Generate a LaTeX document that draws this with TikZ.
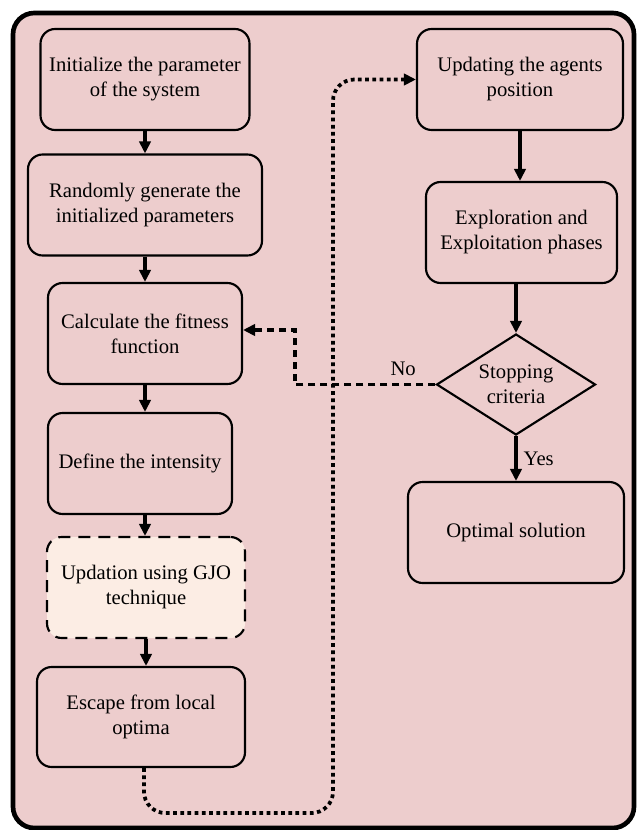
\documentclass[tikz,border=0pt]{standalone}
\usepackage{fontspec}
\setmainfont{Liberation Serif}
\usetikzlibrary{arrows.meta,shapes.geometric}
\definecolor{boxpink}{RGB}{237,205,205}
\definecolor{gjocream}{RGB}{252,237,228}

\begin{document}
\begin{tikzpicture}[x=0.75pt,y=-0.75pt,
		>={Triangle[length=9pt,width=8.5pt]},
		stepbox/.style={draw,line width=1.6pt,rounded corners=11pt,fill=boxpink,align=center,inner sep=3pt,minimum height=75.75pt,font=\fontsize{15.5}{18.75}\selectfont},
		gjobox/.style={stepbox,fill=gjocream,dash pattern=on 9pt off 6pt},
		decision/.style={draw,line width=1.6pt,diamond,fill=boxpink,align=center,inner sep=0pt,aspect=1.57,minimum width=119.25pt,minimum height=75.75pt,font=\fontsize{15.5}{18.75}\selectfont},
		flow/.style={line width=2.8pt,arrows=->},
		noline/.style={line width=2.4pt,dash pattern=on 5.5pt off 3.5pt,arrows=->},
		loopline/.style={line width=2.8pt,dash pattern=on 2.8pt off 2.6pt,arrows=->,rounded corners=16pt},
		lbl/.style={font=\fontsize{15.5}{18.75}\selectfont}]
		\useasboundingbox (0,0) rectangle (636,830);
		\draw[line width=3.5pt,fill=boxpink,rounded corners=16pt] (13,13) rectangle (634,828);
		
		% left column
		\node[stepbox,minimum width=156.75pt] (init) at (145,79.5) {Initialize the parameter\\of the system};
		\node[stepbox,minimum width=175.5pt] (rand) at (145,205) {Randomly generate the\\initialized parameters};
		\node[stepbox,minimum width=145.5pt] (fit) at (145,333.5) {Calculate the fitness\\function};
		\node[stepbox,minimum width=138pt] (inten) at (140,463.5) {Define the intensity};
		\node[gjobox,minimum width=148.5pt] (gjo) at (146,587.5) {Updation using GJO\\technique};
		\node[stepbox,minimum width=156pt,minimum height=75pt] (escape) at (141,717) {Escape from local\\optima};
		
		% right column
		\node[stepbox,minimum width=154.5pt] (agents) at (520,79.5) {Updating the agents\\position};
		\node[stepbox,minimum width=143.25pt] (explore) at (521.5,232.5) {Exploration and\\Exploitation phases};
		\node[decision] (stop) at (516,384.5) {Stopping\\criteria};
		\node[stepbox,minimum width=162pt] (optimal) at (516,532.5) {Optimal solution};
		
		\draw[flow] (init.south) -- (init.south |- rand.north);
		\draw[flow] (rand.south) -- (rand.south |- fit.north);
		\draw[flow] (fit.south) -- (fit.south |- inten.north);
		\draw[flow] (fit.south |- inten.south) -- (fit.south |- gjo.north);
		\draw[flow] (gjo.south) -- (gjo.south |- escape.north);
		\draw[flow] (agents.south) -- (agents.south |- explore.north);
		\draw[flow] (stop.north |- explore.south) -- (stop.north);
		\draw[flow] (stop.south) -- (optimal.north) node[lbl,midway,right,xshift=1pt]{Yes};
		
		% loop back when not stopped
		\coordinate (noturn) at (295,330);
		\draw[noline] (stop.west) -- node[lbl,pos=0.23,above,yshift=2pt]{No} (stop.west -| noturn) -- (noturn) -- (fit.east |- noturn);
		
		% from escape to the agents update
		\coordinate (loopbot) at (333,813);
		\draw[loopline] (escape.south) ++(3,0) |- (loopbot) |- (agents.west);
		
\end{tikzpicture}
\end{document}
